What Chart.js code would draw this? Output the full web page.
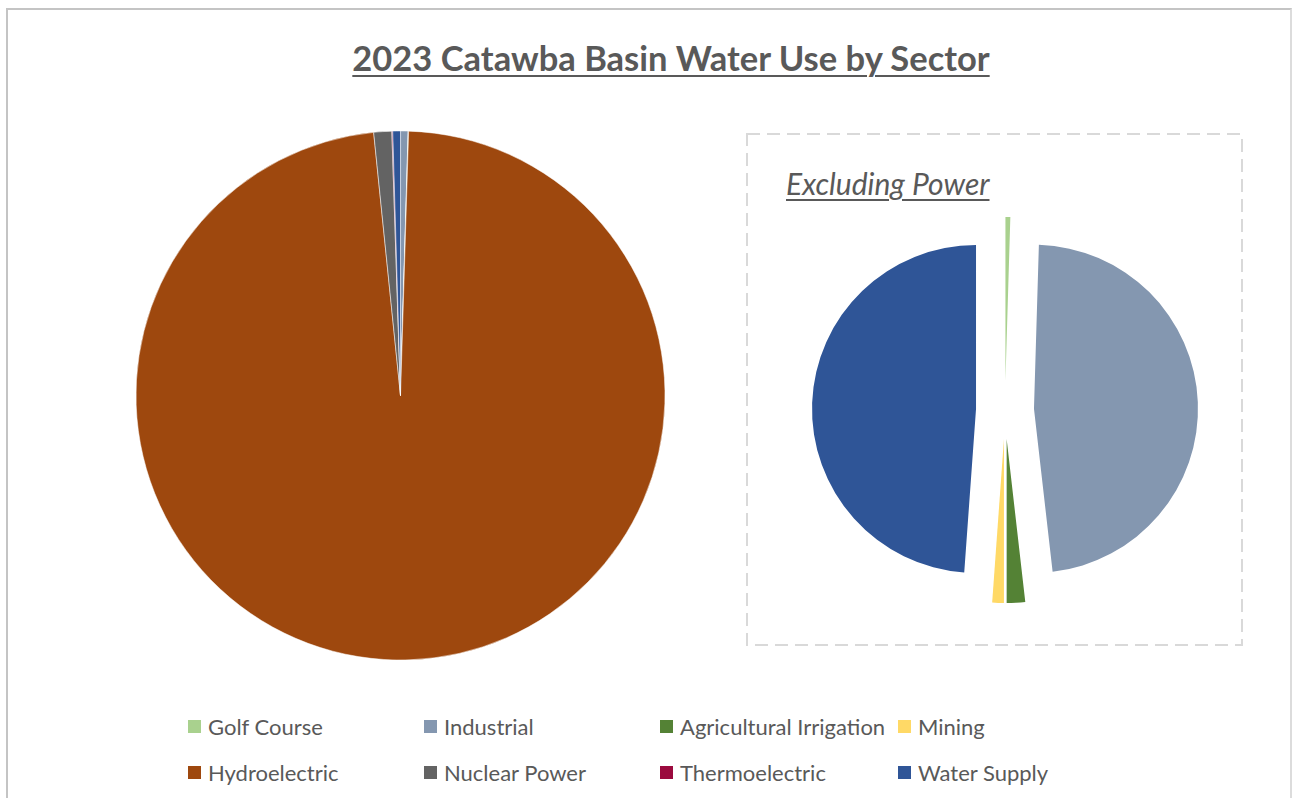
<!DOCTYPE html>
<html>
<head>
<meta charset="utf-8">
<script src="https://cdn.jsdelivr.net/npm/chart.js@4/dist/chart.umd.min.js"></script>
<style>
  html, body { margin: 0; padding: 0; background: #fff; }
  body { width: 1292px; height: 798px; position: relative; overflow: hidden; font-family: Lato, "Open Sans", sans-serif; }
  #frame { position: absolute; left: 6px; top: 8px; width: 1286px; height: 900px; border: 2px solid #c4c4c4; border-right-color: #dcdcdc; box-sizing: border-box; }
  #title { position: absolute; left: 0; width: 1342px; top: 41px; text-align: center; font-weight: 700; font-size: 34.5px; line-height: 34.5px; color: #595959; text-decoration: underline; text-decoration-thickness: 2px; text-underline-offset: 4px; }
  #inset { position: absolute; left: 746px; top: 133px; }
  #sub { position: absolute; left: 786px; top: 168px; font-style: italic; font-size: 30px; line-height: 30px; color: #595959; text-decoration: underline; text-decoration-thickness: 2px; text-underline-offset: 4px; }
  #c1 { position: absolute; left: 120px; top: 115px; }
  #c2 { position: absolute; left: 785px; top: 190px; }
  .li { position: absolute; display: flex; align-items: center; height: 24px; font-size: 22px; color: #595959; white-space: nowrap; }
  .li .bx { width: 13px; height: 13px; margin-right: 7px; }
</style>
</head>
<body>
<div id="frame"></div>
<div id="title">2023 Catawba Basin Water Use by Sector</div>
<svg id="inset" width="498" height="514"><rect x="1" y="1" width="495" height="511" fill="none" stroke="#d9d9d9" stroke-width="2" stroke-dasharray="13 7"/></svg>
<div id="sub">Excluding Power</div>
<canvas id="c1" width="561" height="561"></canvas>
<canvas id="c2" width="440" height="440"></canvas>
<div id="legend"></div>
<script>
// ---- data (estimated, million gallons per day) ----
const categories = ["Golf Course", "Industrial", "Agricultural Irrigation", "Mining",
                    "Hydroelectric", "Nuclear Power", "Thermoelectric", "Water Supply"];
const waterUse = [5, 500, 19, 12, 107200, 1200, 60, 512];
const colors = ["#A9D18E", "#8497B0", "#548235", "#FFD966",
                "#9E480E", "#636363", "#9B0A3E", "#2F5597"];
const nonPowerCategories = ["Golf Course", "Industrial", "Agricultural Irrigation", "Mining", "Water Supply"];

// derived subset for the "Excluding Power" pie
const subIdx = nonPowerCategories.map(c => categories.indexOf(c));
const subValues = subIdx.map(i => waterUse[i]);
const subColors = subIdx.map(i => colors[i]);

// plugin: draw each arc shifted outward along its bisector (exploded pie)
const explode = {
  id: 'explode',
  beforeDatasetDraw(chart, args, opts) {
    const d = (opts && opts.distance) || 0;
    if (!d) return;
    const ctx = chart.ctx;
    args.meta.data.forEach(arc => {
      const mid = (arc.startAngle + arc.endAngle) / 2;
      ctx.save();
      ctx.translate(Math.cos(mid) * d, Math.sin(mid) * d);
      arc.draw(ctx, chart.chartArea);
      ctx.restore();
    });
    return false;
  }
};

const common = {
  responsive: false,
  animation: false,
  layout: { padding: 0 },
  plugins: { legend: { display: false }, tooltip: { enabled: false } }
};

new Chart(document.getElementById('c1'), {
  type: 'pie',
  data: { labels: categories, datasets: [{ data: waterUse, backgroundColor: colors, borderColor: '#ffffff', borderWidth: 0.5 }] },
  options: Object.assign({}, common, { radius: 264.5 })
});

new Chart(document.getElementById('c2'), {
  type: 'pie',
  data: { labels: nonPowerCategories, datasets: [{ data: subValues, backgroundColor: subColors, borderWidth: 0 }] },
  options: Object.assign({}, common, { radius: 164, plugins: Object.assign({}, common.plugins, { explode: { distance: 29 } }) }),
  plugins: [explode]
});

// legend (2 rows x 4 columns)
const colX = [188, 424, 660, 898];
const rowY = [714, 760];
const lg = document.getElementById('legend');
categories.forEach((c, i) => {
  const el = document.createElement('div');
  el.className = 'li';
  el.style.left = colX[i % 4] + 'px';
  el.style.top = rowY[Math.floor(i / 4)] + 'px';
  const b = document.createElement('span');
  b.className = 'bx';
  b.style.background = colors[i];
  const t = document.createElement('span');
  t.textContent = c;
  el.appendChild(b); el.appendChild(t);
  lg.appendChild(el);
});
</script>
</body>
</html>
